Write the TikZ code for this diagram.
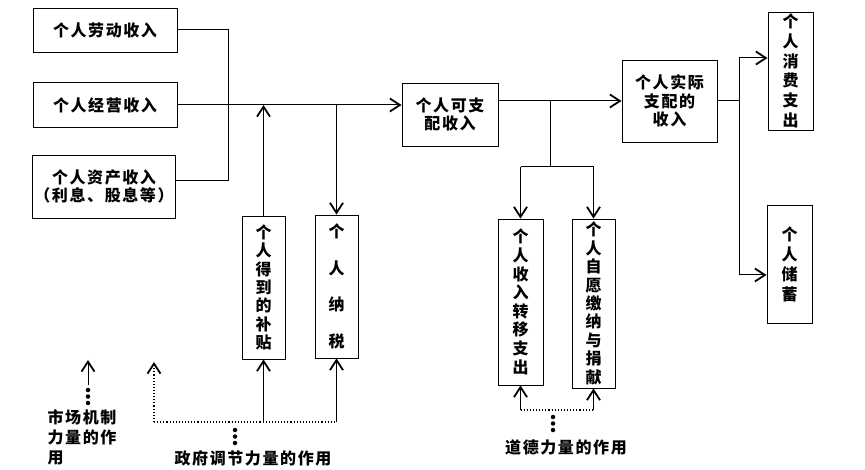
\documentclass[tikz,border=0pt]{standalone}
\usepackage{fontspec}
\usepackage{tikz}
\usetikzlibrary{arrows.meta,calc}
\newfontfamily\cjk[LetterSpace=10]{Noto Sans CJK SC}
\newfontfamily\cjkv{Noto Sans CJK SC}

\begin{document}
\begin{tikzpicture}[x=1pt, y=-1pt,
  hbox/.style={draw, line width=0.9pt, inner sep=0pt, align=center, font=\cjk\bfseries\fontsize{16}{18.5}\selectfont},
  vbox/.style={draw, line width=0.9pt, inner sep=0pt, align=center, font=\cjkv\bfseries\fontsize{16}{18.5}\selectfont},
  lbl/.style={inner sep=0pt, align=left, font=\cjk\bfseries\fontsize{16}{20}\selectfont},
  tip/.tip={Straight Barb[length=10pt, width=13pt, line width=1.8pt]},
  arr/.style={-tip, line width=1pt},
  ln/.style={line width=1pt},
  dotln/.style={dotted, line width=1.1pt},
  bigdot/.style={circle, fill, inner sep=0pt, minimum size=4.5pt}
]
  \useasboundingbox (0,0) rectangle (865,470);

  % income sources
  \node[hbox, minimum width=144, minimum height=44] (ldsr) at (105,30) {个人劳动收入};
  \node[hbox, minimum width=144, minimum height=45] (jysr) at (105,105) {个人经营收入};
  \node[hbox, minimum width=143, minimum height=63] (zcsr) at (104,186.5) {个人资产收入\\（利息、股息等）};

  \node[hbox, minimum width=96, minimum height=63] (kzp) at (450,114.5) {个人可支\\配收入};
  \node[hbox, minimum width=95, minimum height=82] (sjzp) at (669.5,101) {个人实际\\支配的\\收入};

  % vertical boxes
  \node[vbox, minimum width=45, minimum height=118, font=\cjkv\bfseries\fontsize{16}{19.8}\selectfont] (xfzc) at (790.5,71) {个\\人\\消\\费\\支\\出};
  \node[vbox, minimum width=45, minimum height=118, font=\cjkv\bfseries\fontsize{16}{20}\selectfont] (cx) at (789.5,264) {个\\人\\储\\蓄};
  \node[vbox, minimum width=43, minimum height=143, font=\cjkv\bfseries\fontsize{16}{18.3}\selectfont] (bt) at (263.5,287.5) {个\\人\\得\\到\\的\\补\\贴};
  \node[vbox, minimum width=43, minimum height=143, font=\cjkv\bfseries\fontsize{16}{36.7}\selectfont] (ns) at (336.5,286.5) {个\\人\\纳\\税};
  \node[vbox, minimum width=45, minimum height=166, font=\cjkv\bfseries\fontsize{16}{18.6}\selectfont] (zy) at (520.5,302) {个\\人\\收\\入\\转\\移\\支\\出};
  \node[vbox, minimum width=43, minimum height=169, font=\cjkv\bfseries\fontsize{16}{18.4}\selectfont] (zj) at (593.5,303.5) {个\\人\\自\\愿\\缴\\纳\\与\\捐\\献};

  % labels
  \node[lbl] (market) at (82,437) {市场机制\\力量的作\\用};
  \node[lbl] (gov) at (253,458) {政府调节力量的作用};
  \node[lbl] (moral) at (566,447) {道德力量的作用};

  % collecting the incomes
  \coordinate (jL) at (228,105);
  \draw[ln] (ldsr.east) -| (jL);
  \draw[ln] ([yshift=6pt]zcsr.east) -| (jL);
  \draw[ln] (jysr.east) -- (jL);
  \draw[arr] (jL) -- (kzp.west |- jL);
  \draw[arr] (bt.north) -- (bt.north |- jL);
  \draw[arr] (ns.north |- jL) -- (ns.north);

  % disposable to actual
  \coordinate (kzpOut) at (kzp.east |- sjzp.west);
  \draw[arr] (kzpOut) -- (sjzp.west);
  \coordinate (br) at (550,101);
  \coordinate (brL) at (550,167);
  \draw[ln] (br) -- (brL);
  \draw[ln] (zy.north |- brL) -- (zj.north |- brL);
  \draw[arr] (zy.north |- brL) -- (zy.north);
  \draw[arr] (zj.north |- brL) -- (zj.north);

  % spending and saving
  \coordinate (rb) at (739,101);
  \coordinate (rTop) at (739,58);
  \coordinate (rBot) at (739,275);
  \draw[ln] (sjzp.east) -- (rb);
  \draw[ln] (rTop) -- (rBot);
  \draw[arr] (rTop) -- (xfzc.west |- rTop);
  \draw[arr] (rBot) -- (cx.west |- rBot);

  % government
  \coordinate (gL) at (154,422);
  \coordinate (gR) at (ns.south |- gL);
  \draw[dotln] (gL) -- (gR);
  \draw[dotln, -tip] (gL) -- (154,362);
  \draw[arr] (bt.south |- gL) -- (bt.south);
  \draw[arr] (gR) -- (ns.south);
  \foreach \y in {430,436.5,443}
    \node[bigdot] at (235,\y) {};

  % market
  \draw[arr] (88,385) -- (88,360);
  \foreach \y in {390,396.5,403}
    \node[bigdot] at (88,\y) {};

  % moral
  \coordinate (mL) at (zy.south |- 0,410);
  \coordinate (mR) at (zj.south |- 0,410);
  \draw[dotln] (mL) -- (mR);
  \draw[arr] (mL) -- (zy.south);
  \draw[arr] (mR) -- (zj.south);
  \foreach \y in {417,423.5,430}
    \node[bigdot] at (553,\y) {};
\end{tikzpicture}
\end{document}
